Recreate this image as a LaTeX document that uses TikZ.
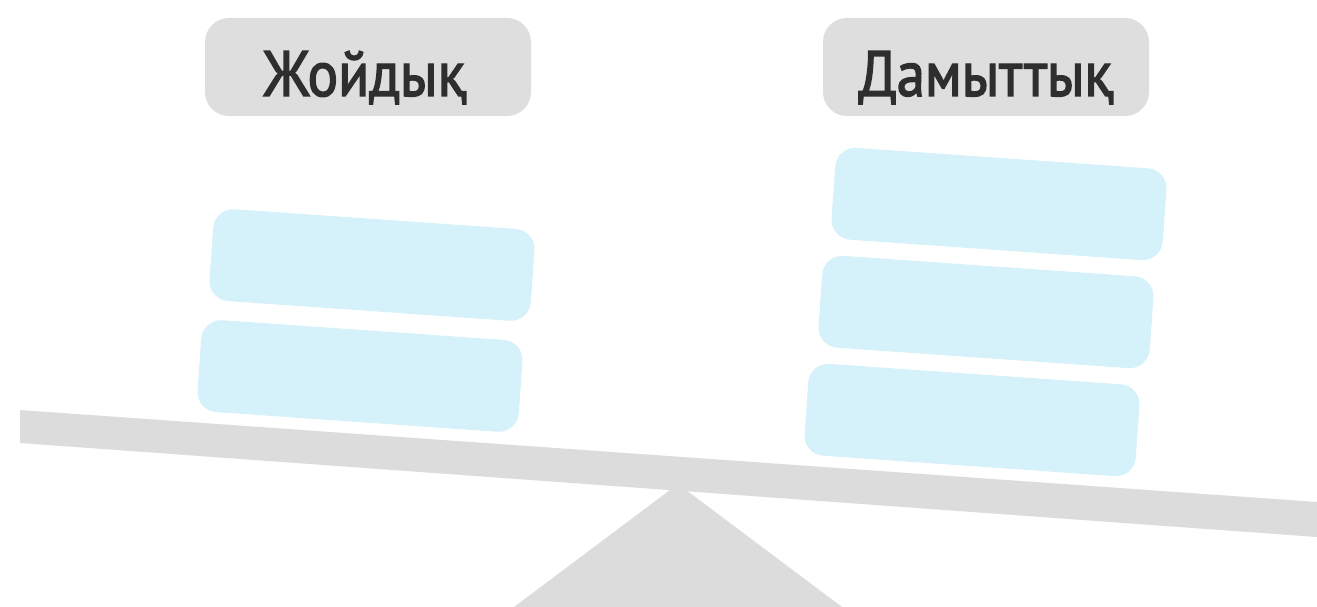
\documentclass[tikz,border=0pt]{standalone}
\usepackage{fontspec}
\setmainfont{PT Sans}
\newfontfamily\labelfont{PT Sans}[FakeBold=2.2,FakeStretch=0.89]
\definecolor{labelgray}{HTML}{DEDEDE}
\definecolor{beamgray}{HTML}{DCDCDC}
\definecolor{blockblue}{HTML}{D5F1FA}
\definecolor{textdark}{HTML}{2E2E2E}
\begin{document}
\begin{tikzpicture}[x=1pt,y=-1pt,
  labelbox/.style={fill=labelgray, rounded corners=24pt, minimum width=326pt, minimum height=98pt,
    inner sep=0pt, text height=58pt, text depth=0pt,
    font=\labelfont\fontsize{64}{72}\selectfont, text=textdark},
  block/.style={fill=blockblue, rounded corners=20pt, inner sep=0pt, minimum height=92pt, rotate=-4},
  leftblock/.style={block, minimum width=322pt},
  rightblock/.style={block, minimum width=332pt}]
\useasboundingbox (0,0) rectangle (1317,607);
\fill[white] (0,0) rectangle (1317,607);
% labels
\node[labelbox] (lab1) at (368,67) {\hspace{-6pt}Жойдық};
\node[labelbox] (lab2) at (986,67) {Дамыттық};
% left blocks
\node[leftblock] (l1) at (372,265) {};
\node[leftblock] (l2) at (360,376) {};
% right blocks
\node[rightblock] (r1) at (999,204) {};
\node[rightblock] (r2) at (986,312) {};
\node[rightblock] (r3) at (972,420) {};
% fulcrum
\coordinate (apex) at (678,484);
\coordinate (baseL) at (514,607);
\coordinate (baseR) at (842,607);
\fill[beamgray] (apex) -- (baseR) -- (baseL) -- cycle;
% beam
\coordinate (bTL) at (20,410);
\coordinate (bTR) at (1317,502);
\coordinate (bBR) at (1317,537);
\coordinate (bBL) at (20,443);
\fill[beamgray] (bTL) -- (bTR) -- (bBR) -- (bBL) -- cycle;
\end{tikzpicture}
\end{document}
